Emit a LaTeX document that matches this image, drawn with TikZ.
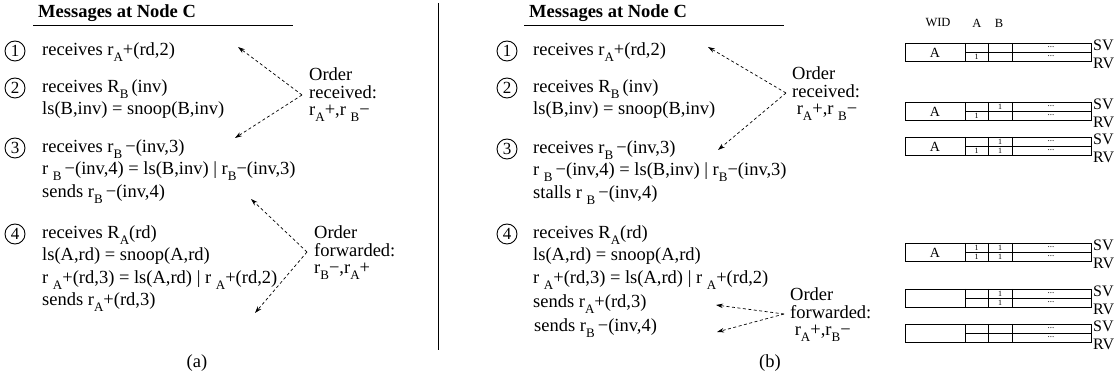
\documentclass[tikz,border=0pt]{standalone}
\usepackage{fontspec}
\setmainfont{Liberation Serif}
\usetikzlibrary{arrows.meta}
\newcommand\lsub[1]{\raisebox{-0.32em}{\fontsize{13}{13}\selectfont #1}}
\tikzset{
  x=1pt, y=-1pt,
  txt/.style={anchor=west, inner sep=0pt, font=\fontsize{18.5}{22}\selectfont, text height=13pt, text depth=4pt},
  ttl/.style={txt, font=\fontsize{18.5}{22}\selectfont\bfseries},
  num/.style={circle, draw, line width=0.9pt, minimum size=20pt, inner sep=0pt, font=\fontsize{17}{17}\selectfont},
  ordr/.style={anchor=west, inner sep=0pt, align=left, font=\fontsize{18.5}{17.5}\selectfont},
  darr/.style={line width=0.7pt, dash pattern=on 3pt off 2.5pt, -{Stealth[length=7pt,width=4.5pt]}},
  rule/.style={line width=0.9pt},
  tabline/.style={line width=0.8pt},
  wid/.style={inner sep=0pt, font=\fontsize{14}{14}\selectfont},
  one/.style={inner sep=0pt, font=\fontsize{8}{8}\selectfont},
  dts/.style={inner sep=0pt, font=\fontsize{9}{9}\selectfont},
  svl/.style={anchor=west, inner sep=0pt, font=\fontsize{16}{16}\selectfont},
  hdr/.style={inner sep=0pt, font=\fontsize{12.5}{12.5}\selectfont},
}
\newcommand\wtab[7]{%
  \draw[tabline] (905,#2) rectangle (1091,#2+18);
  \draw[tabline] (965,#2+9) -- (1091,#2+9);
  \draw[tabline] (965,#2) -- (965,#2+18) (988,#2) -- (988,#2+18) (1012,#2) -- (1012,#2+18);
  \node[wid] (#1w) at (935,#2+9.5) {#3};
  \node[one] (#1as) at (976.5,#2+4.5) {#4};
  \node[one] (#1ar) at (976.5,#2+13.5) {#5};
  \node[one] (#1bs) at (1000,#2+4.5) {#6};
  \node[one] (#1br) at (1000,#2+13.5) {#7};
  \node[dts] (#1ds) at (1051,#2+4) {...};
  \node[dts] (#1dr) at (1051,#2+13) {...};
  \node[svl] (#1sv) at (1093,#2+2) {SV};
  \node[svl] (#1rv) at (1093,#2+20) {RV};
}
\begin{document}
\begin{tikzpicture}
\useasboundingbox (0,0) rectangle (1120,379);

% ---------------- panel (a)
\node[ttl] (ta) at (38,13) {Messages at Node C};
\draw[rule] (33,25) -- (293,25);
\node[num] (a1) at (15,51) {1};
\node[txt] (a1t) at (42,51) {receives r\lsub{A}+(rd,2)};
\node[num] (a2) at (15,88) {2};
\node[txt] (a2t) at (42,88) {receives R\lsub{B}\,(inv)};
\node[txt] (a2u) at (42,110) {ls(B,inv) = snoop(B,inv)};
\node[num] (a3) at (15,148) {3};
\node[txt] (a3t) at (42,148) {receives r\lsub{B}\,−(inv,3)};
\node[txt] (a3u) at (42,170) {r \lsub{B}\,−(inv,4) = ls(B,inv) | r\lsub{B}−(inv,3)};
\node[txt] (a3v) at (42,193) {sends r\lsub{B}\,−(inv,4)};
\node[num] (a4) at (15,234) {4};
\node[txt] (a4t) at (42,234) {receives R\lsub{A}(rd)};
\node[txt] (a4u) at (42,256) {ls(A,rd) = snoop(A,rd)};
\node[txt] (a4v) at (42,279) {r \lsub{A}+(rd,3) = ls(A,rd) | r \lsub{A}+(rd,2)};
\node[txt] (a4w) at (42,301) {sends r\lsub{A}+(rd,3)};

\node[ordr] (arec) at (309,95) {Order\\received:\\r\lsub{A}+,r \lsub{B}−};
\coordinate (arv) at (302,95);
\coordinate (arT1) at (238,47);
\coordinate (arT2) at (235,138);
\draw[darr] (arv) -- (arT1);
\draw[darr] (arv) -- (arT2);

\node[ordr] (afwd) at (314,253) {Order\\forwarded:\\r\lsub{B}−,r\lsub{A}+};
\coordinate (afv) at (307,252);
\coordinate (afT1) at (251,199);
\coordinate (afT2) at (255,313);
\draw[darr] (afv) -- (afT1);
\draw[darr] (afv) -- (afT2);

\node[txt, anchor=center] (capa) at (197,363) {(a)};

% divider
\draw[rule] (438,3) -- (438,350);

% ---------------- panel (b)
\node[ttl] (tb) at (529,13) {Messages at Node C};
\draw[rule] (524,25) -- (784,25);
\node[num] (b1) at (507,51) {1};
\node[txt] (b1t) at (533,51) {receives r\lsub{A}+(rd,2)};
\node[num] (b2) at (507,88) {2};
\node[txt] (b2t) at (533,88) {receives R\lsub{B}\,(inv)};
\node[txt] (b2u) at (533,110) {ls(B,inv) = snoop(B,inv)};
\node[num] (b3) at (507,149) {3};
\node[txt] (b3t) at (533,149) {receives r\lsub{B}\,−(inv,3)};
\node[txt] (b3u) at (533,171) {r \lsub{B}\,−(inv,4) = ls(B,inv) | r\lsub{B}−(inv,3)};
\node[txt] (b3v) at (533,194) {stalls r \lsub{B}\,−(inv,4)};
\node[num] (b4) at (507,234) {4};
\node[txt] (b4t) at (533,234) {receives R\lsub{A}(rd)};
\node[txt] (b4u) at (533,256) {ls(A,rd) = snoop(A,rd)};
\node[txt] (b4v) at (533,279) {r \lsub{A}+(rd,3) = ls(A,rd) | r \lsub{A}+(rd,2)};
\node[txt] (b4w) at (533,303) {sends r\lsub{A}+(rd,3)};
\node[txt] (b4x) at (534,327) {sends r\lsub{B}\,−(inv,4)};

\node[ordr] (brec) at (792,94) {Order\\received:\\\ r\lsub{A}+,r \lsub{B}−};
\coordinate (brv) at (786,93);
\coordinate (brT1) at (708,47);
\coordinate (brT2) at (718,150);
\draw[darr] (brv) -- (brT1);
\draw[darr] (brv) -- (brT2);

\node[ordr] (bfwd) at (790,315) {Order\\forwarded:\\\ r\lsub{A}+,r\lsub{B}−};
\coordinate (bfv) at (784,314);
\coordinate (bfT1) at (716,305);
\coordinate (bfT2) at (717,332);
\draw[darr] (bfv) -- (bfT1);
\draw[darr] (bfv) -- (bfT2);

\node[txt, anchor=center] (capb) at (770,363) {(b)};

% ---------------- tables
\node[hdr] (hw) at (938,23) {WID};
\node[hdr] (ha) at (977,23) {A};
\node[hdr] (hb) at (999,23) {B};
\wtab{T1}{43}{A}{}{1}{}{}
\wtab{T2}{102}{A}{}{1}{1}{}
\wtab{T3}{137}{A}{}{1}{1}{1}
\wtab{T4}{243}{A}{1}{1}{1}{1}
\wtab{T5}{289}{}{}{}{1}{1}
\wtab{T6}{324}{}{}{}{}{}
\end{tikzpicture}
\end{document}
